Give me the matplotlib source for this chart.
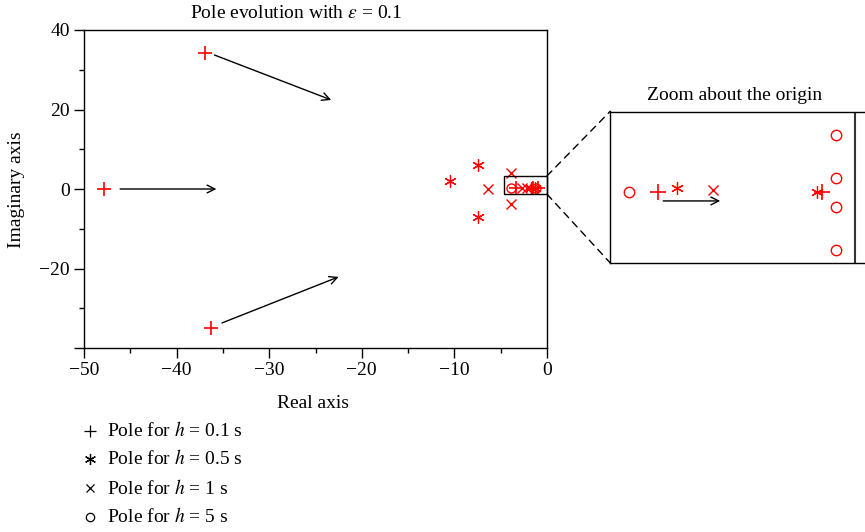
import matplotlib
matplotlib.use("Agg")
import matplotlib.pyplot as plt
from matplotlib.lines import Line2D
from matplotlib.patches import Rectangle, ConnectionPatch
from matplotlib.ticker import MultipleLocator

plt.rcParams['font.family'] = ['Liberation Serif', 'DejaVu Serif']
plt.rcParams['mathtext.fontset'] = 'stix'
plt.rcParams['font.size'] = 14

# ---------------- data ----------------
# main plot poles
plus_re = [-36.9, -47.8, -36.3, -3.4, -1.5, -1.0]
plus_im = [34.2, 0.0, -35.0, 0.3, 0.3, 0.3]
star_re = [-7.5, -10.5, -7.4, -1.7, -1.3]
star_im = [6.0, 1.9, -7.0, 0.3, 0.3]
x_re = [-3.9, -6.4, -3.9, -2.7, -2.2]
x_im = [4.0, 0.0, -3.8, 0.3, 0.3]
o_re = [-3.9, -1.2]
o_im = [0.3, 0.3]

# arrows (start -> end) in main plot
arrow_start = [(-35.9, 33.7), (-46.1, 0.0), (-35.1, -33.7)]
arrow_end = [(-23.3, 22.4), (-35.7, 0.0), (-22.5, -22.1)]

# zoom region in main plot
zoom_x = [-4.6, 0.0]
zoom_y = [-1.3, 3.3]

# inset poles
zplus_re = [-3.70, -0.62]
zplus_im = [0.0, 0.0]
zstar_re = [-3.34, -0.72]
zstar_im = [0.08, 0.0]
zx_re = [-2.66]
zx_im = [0.05]
zo_re = [-4.24, -0.36, -0.36, -0.36, -0.36]
zo_im = [0.0, 1.08, 0.28, -0.27, -1.08]
zarrow_start = (-3.60, -0.16)
zarrow_end = (-2.53, -0.16)

legend_labels = [r'Pole for $h$ = 0.1 s', r'Pole for $h$ = 0.5 s',
                 r'Pole for $h$ = 1 s', r'Pole for $h$ = 5 s']

xticks = [-50, -40, -30, -20, -10, 0]
xtick_labels = ['\u221250', '\u221240', '\u221230', '\u221220', '\u221210', '0']
yticks = [40, 20, 0, -20, -40]
ytick_labels = ['40', '20', '0', '\u221220', '']

# ---------------- figure ----------------
W, H = 865, 532
fig = plt.figure(figsize=(W / 100, H / 100), dpi=100)

def fx(px):
    return px / W

def fy(py):
    return 1 - py / H

ax = fig.add_axes([fx(84), fy(348), fx(547) - fx(84), fy(30) - fy(348)])
ax.set_xlim(-50, 0)
ax.set_ylim(-40, 40)

red = '#ff0000'
ast = (6, 2, 0)
ax.plot(plus_re, plus_im, ls='none', marker='+', ms=10, mew=1.2, color=red, clip_on=False)
ax.plot(star_re, star_im, ls='none', marker=ast, ms=9, mew=0.9, color=red)
ax.plot(x_re, x_im, ls='none', marker='x', ms=6.5, mew=1.0, color=red)
ax.plot(o_re, o_im, ls='none', marker='o', ms=6.5, mew=1.0, mfc='none', color=red)

for s, e in zip(arrow_start, arrow_end):
    ax.annotate('', xy=e, xytext=s,
                arrowprops=dict(arrowstyle='->', color='black', lw=1.0,
                                mutation_scale=14, shrinkA=0, shrinkB=0))

ax.add_patch(Rectangle((zoom_x[0], zoom_y[0]), zoom_x[1] - zoom_x[0],
                       zoom_y[1] - zoom_y[0], fill=False, ec='black', lw=1.0,
                       clip_on=False, zorder=5))

ax.set_xticks(xticks)
ax.set_xticklabels(xtick_labels)
ax.set_yticks(yticks)
ax.set_yticklabels(ytick_labels)
ax.xaxis.set_minor_locator(MultipleLocator(5))
ax.yaxis.set_minor_locator(MultipleLocator(10))
ax.tick_params(which='major', direction='out', length=7, width=1, top=False, right=False, pad=3)
ax.tick_params(which='minor', direction='out', length=3.5, width=1, top=False, right=False)
for sp in ax.spines.values():
    sp.set_linewidth(1.0)

fig.text(fx(296), fy(13), r'Pole evolution with $\varepsilon$ = 0.1', ha='center', va='center')
fig.text(fx(313), fy(404), 'Real axis', ha='center', va='center')
fig.text(fx(17), fy(190), 'Imaginary axis', ha='center', va='center', rotation=90)

# ---------------- inset ----------------
ax2 = fig.add_axes([fx(610), fy(262.7), fx(880) - fx(610), fy(111.5) - fy(262.7)])
ax2.set_xlim(-4.6, 0.47)
ax2.set_ylim(-1.32, 1.52)
ax2.set_xticks([])
ax2.set_yticks([])
for sp in ax2.spines.values():
    sp.set_linewidth(1.0)
ax2.axvline(0, color='#333333', lw=1.5)
ax2.plot(zplus_re, zplus_im, ls='none', marker='+', ms=11, mew=1.2, color=red)
ax2.plot(zstar_re, zstar_im, ls='none', marker=ast, ms=9, mew=0.9, color=red)
ax2.plot(zx_re, zx_im, ls='none', marker='x', ms=6.5, mew=1.0, color=red)
ax2.plot(zo_re, zo_im, ls='none', marker='o', ms=7.5, mew=1.0, mfc='none', color=red)
ax2.annotate('', xy=zarrow_end, xytext=zarrow_start,
             arrowprops=dict(arrowstyle='->', color='black', lw=1.0,
                             mutation_scale=14, shrinkA=0, shrinkB=0))
fig.text(fx(735), fy(96), 'Zoom about the origin', ha='center', va='center')

for yy, corner in ((zoom_y[1], (0, 1)), (zoom_y[0], (0, 0))):
    con = ConnectionPatch(xyA=(zoom_x[1], yy), coordsA=ax.transData,
                          xyB=corner, coordsB=ax2.transAxes,
                          ls=(0, (5, 4)), color='black', lw=1.0)
    fig.add_artist(con)

# ---------------- legend ----------------
leg_markers = ['+', ast, 'x', 'o']
leg_ms = [9, 8, 6, 6]
leg_y = [431, 459, 488, 517]
for m, ms, yy, lab in zip(leg_markers, leg_ms, leg_y, legend_labels):
    fig.add_artist(Line2D([fx(90)], [fy(yy)], marker=m, ms=ms, mew=0.9,
                          color='black', mfc='none', ls='none',
                          transform=fig.transFigure))
    fig.text(fx(107), fy(yy), lab, ha='left', va='center')

fig.savefig('out.png', dpi=100)
